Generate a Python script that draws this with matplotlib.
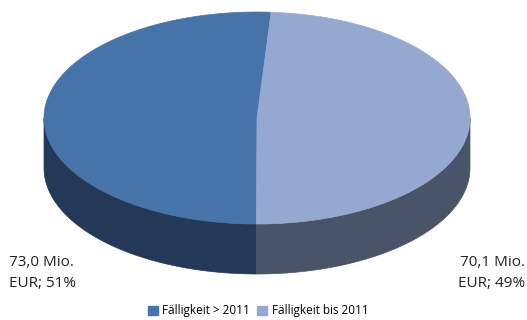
import numpy as np
import matplotlib.pyplot as plt
from matplotlib.patches import Polygon, Patch

labels = ["Fälligkeit > 2011", "Fälligkeit bis 2011"]
values = [73.0, 70.1]
pcts = ["51%", "49%"]
top_colors = ["#4673A8", "#95A9D0"]
side_colors = ["#243858", "#4A5469"]

cx, cy, rx, ry, depth = 257, 118, 213, 106, 50
start = 3.8  # degrees clockwise from top, boundary of the two slices


def pt(phi, dy=0):
    r = np.radians(phi)
    return cx + rx * np.sin(r), cy - ry * np.cos(r) + dy


fig = plt.figure(figsize=(5.27, 3.2), dpi=100)
ax = fig.add_axes([0, 0, 1, 1])
ax.set_xlim(0, 527)
ax.set_ylim(320, 0)
ax.axis("off")

total = sum(values)
spans = [v / total * 360 for v in values]
# dark slice runs counterclockwise from start, light slice clockwise
ranges = [(start - spans[0], start), (start, start + spans[1])]

# side walls (front half only: phi in [90, 270])
for (a0, a1), col in zip(ranges, side_colors):
    if a0 < 0:
        lo, hi = max(a0 + 360, 90), 270
    else:
        lo, hi = max(a0, 90), min(a1, 270)
    if hi <= lo:
        continue
    ph = np.linspace(lo, hi, 80)
    upper = [pt(p) for p in ph]
    lower = [pt(p, depth) for p in ph[::-1]]
    ax.add_patch(Polygon(upper + lower, closed=True, facecolor=col, edgecolor=col, lw=0.5))

# top faces
for (a0, a1), col in zip(ranges, top_colors):
    ph = np.linspace(a0, a1, 200)
    poly = [(cx, cy)] + [pt(p) for p in ph]
    ax.add_patch(Polygon(poly, closed=True, facecolor=col, edgecolor=col, lw=0.5))

txt = dict(fontsize=11, family="Open Sans", color="#222222", linespacing=1.5, va="center")
ax.text(9, 273, f"{values[0]:.1f}".replace(".", ",") + f" Mio.\nEUR; {pcts[0]}", ha="left", **txt)
ax.text(525, 273, f"{values[1]:.1f}".replace(".", ",") + f" Mio.\nEUR; {pcts[1]}", ha="right", **txt)

handles = [Patch(facecolor=c, edgecolor=c) for c in top_colors]
ax.legend(handles, labels, loc="lower center", bbox_to_anchor=(0.49, -0.025), ncol=2,
          frameon=False, prop={"family": "Open Sans", "size": 8.5}, handlelength=0.8,
          handleheight=0.8, handletextpad=0.4, columnspacing=0.6)

fig.savefig("out.png", dpi=100)
